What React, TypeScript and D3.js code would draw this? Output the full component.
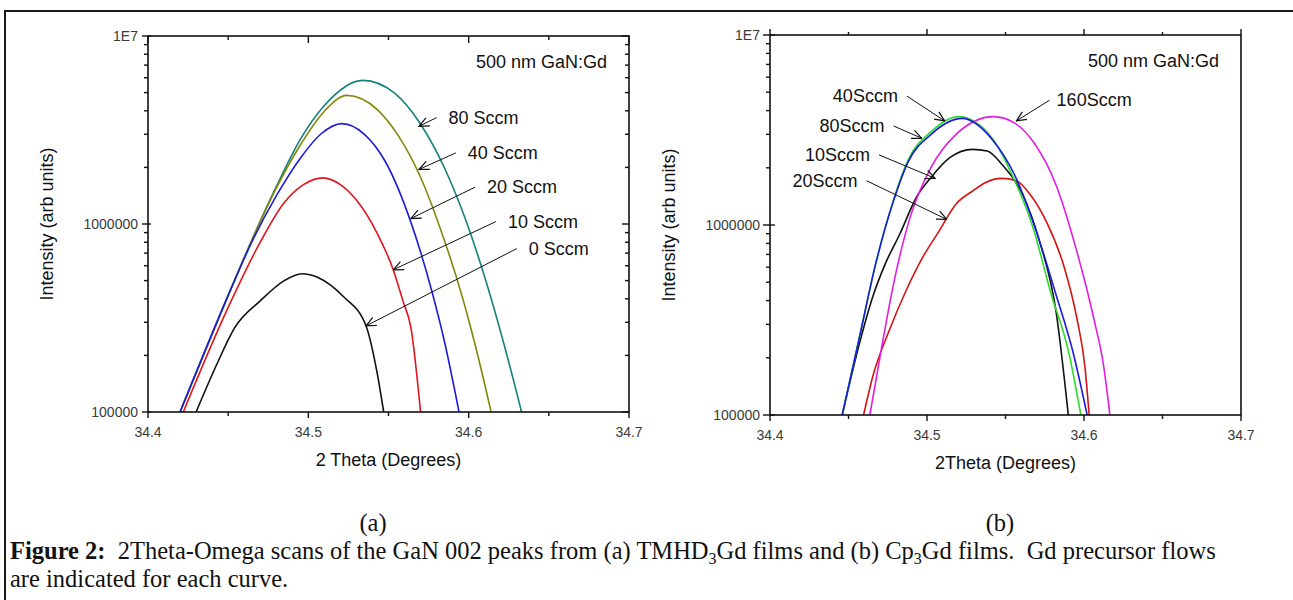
import React from "react";
import * as d3 from "d3";

type Pt = [number, number];

// (a) TMHD3Gd films: [2theta, intensity]
const labelsA = ["80 Sccm", "40 Sccm", "20 Sccm", "10 Sccm", "0 Sccm"];
const a80: Pt[] = [[34.42, 1e5], [34.45, 4.17e5], [34.465, 8.3e5], [34.48, 1.58e6], [34.495, 2.82e6], [34.51, 4.27e6], [34.534, 5.81e6], [34.554, 4.95e6], [34.569, 3.5e6], [34.585, 1.98e6], [34.598, 1.06e6], [34.611, 4.9e5], [34.622, 2.3e5], [34.633, 1e5]];
const a40: Pt[] = [[34.42, 1e5], [34.45, 4.17e5], [34.465, 8.3e5], [34.48, 1.55e6], [34.495, 2.63e6], [34.51, 3.98e6], [34.524, 4.83e6], [34.543, 4.06e6], [34.556, 2.96e6], [34.569, 1.85e6], [34.583, 9.1e5], [34.596, 4.1e5], [34.606, 1.95e5], [34.614, 1e5]];
const a20: Pt[] = [[34.42, 1e5], [34.45, 4.17e5], [34.465, 8.1e5], [34.48, 1.41e6], [34.495, 2.24e6], [34.508, 3.02e6], [34.521, 3.42e6], [34.535, 3.0e6], [34.548, 2.15e6], [34.564, 1.02e6], [34.577, 4.4e5], [34.585, 2.35e5], [34.594, 1e5]];
const a10: Pt[] = [[34.422, 1e5], [34.45, 3.6e5], [34.47, 8.0e5], [34.485, 1.3e6], [34.497, 1.62e6], [34.509, 1.76e6], [34.52, 1.62e6], [34.53, 1.34e6], [34.543, 8.9e5], [34.553, 5.7e5], [34.559, 3.9e5], [34.564, 2.8e5], [34.57, 1e5]];
const a0: Pt[] = [[34.43, 1e5], [34.443, 1.8e5], [34.454, 2.8e5], [34.47, 3.9e5], [34.485, 5.0e5], [34.496, 5.44e5], [34.506, 5.2e5], [34.522, 4.1e5], [34.536, 2.87e5], [34.543, 1.6e5], [34.547, 1e5]];
const colorsA = ["#13817c", "#85850a", "#1c1cd6", "#e0141c", "#111111"];
// arrows: tip x, tip y, tail x, tail y (data units)
const arrowsA: [number, number, number, number][] = [
  [34.569, 3.31e6, 34.58, 3.68e6],
  [34.569, 1.95e6, 34.592, 2.39e6],
  [34.564, 1.07e6, 34.604, 1.57e6],
  [34.553, 5.71e5, 34.617, 1.03e6],
  [34.536, 2.87e5, 34.63, 7.4e5],
];

// (b) Cp3Gd films
const labelsB = ["80Sccm", "40Sccm", "160Sccm", "10Sccm", "20Sccm"];
const b80: Pt[] = [[34.446, 1e5], [34.4575, 2.68e5], [34.4668, 6.0e5], [34.4787, 1.34e6], [34.488, 2.15e6], [34.5026, 3.0e6], [34.5224, 3.64e6], [34.5423, 2.77e6], [34.5556, 1.85e6], [34.5688, 9.7e5], [34.582, 4.35e5], [34.5927, 2.19e5], [34.602, 1e5]];
const b40: Pt[] = [[34.446, 1e5], [34.4575, 2.7e5], [34.4668, 6.0e5], [34.4787, 1.36e6], [34.488, 2.2e6], [34.5026, 3.1e6], [34.52, 3.72e6], [34.542, 2.83e6], [34.554, 1.85e6], [34.5675, 9.7e5], [34.579, 4.35e5], [34.59, 2.19e5], [34.598, 1e5]];
const b160: Pt[] = [[34.4636, 1e5], [34.4708, 2.19e5], [34.4787, 4.9e5], [34.4893, 1.1e6], [34.5026, 2.01e6], [34.5185, 3.0e6], [34.5423, 3.72e6], [34.5556, 3.45e6], [34.5688, 2.66e6], [34.582, 1.64e6], [34.5953, 7.33e5], [34.606, 3.28e5], [34.6126, 1.79e5], [34.6165, 1e5]];
const b10: Pt[] = [[34.446, 1e5], [34.4575, 2.47e5], [34.4655, 4.2e5], [34.4734, 6.24e5], [34.4827, 8.97e5], [34.4933, 1.4e6], [34.5026, 1.78e6], [34.5145, 2.26e6], [34.5291, 2.5e6], [34.5384, 2.45e6], [34.5476, 2.09e6], [34.5609, 1.45e6], [34.5715, 8.3e5], [34.5821, 3.55e5], [34.59, 1e5]];
const b20: Pt[] = [[34.4596, 1e5], [34.4655, 1.6e5], [34.476, 2.79e5], [34.4867, 4.52e5], [34.4973, 6.77e5], [34.5079, 9.34e5], [34.5185, 1.29e6], [34.5291, 1.51e6], [34.537, 1.67e6], [34.5476, 1.76e6], [34.5569, 1.71e6], [34.5662, 1.43e6], [34.5768, 1.01e6], [34.5874, 6.0e5], [34.5953, 3.28e5], [34.6006, 1.79e5], [34.6033, 1e5]];
const colorsB = ["#1a1ae0", "#2ed82e", "#e01ee0", "#111111", "#d41414"];
const arrowsB: [number, number, number, number][] = [
  [34.4967, 2.86e6, 34.4787, 3.32e6],
  [34.5113, 3.53e6, 34.4872, 4.77e6],
  [34.5569, 3.53e6, 34.5781, 4.54e6],
  [34.5052, 1.76e6, 34.4694, 2.34e6],
  [34.5126, 1.07e6, 34.4615, 1.71e6],
];

const xTickVals = [34.4, 34.45, 34.5, 34.55, 34.6, 34.65, 34.7];
const sans = "'Liberation Sans', Arial, sans-serif";
const serif = "'Liberation Serif', 'Times New Roman', serif";

type Box = { left: number; right: number; top: number; bottom: number };

function Panel({ id, box, series, colors, labels, arrows, xTitle, variant, gap, xTitleY }: {
  id: string; box: Box; series: Pt[][]; colors: string[]; labels: string[];
  arrows: [number, number, number, number][]; xTitle: string; variant: "a" | "b"; gap: number; xTitleY: number;
}) {
  const x = d3.scaleLinear().domain([34.4, 34.7]).range([box.left, box.right]);
  const y = d3.scaleLog().domain([1e5, 1e7]).range([box.bottom, box.top]);
  const line = d3.line<Pt>().x((d) => x(d[0])).y((d) => y(d[1])).curve(d3.curveMonotoneX);
  const yTicks = y.ticks();
  const isMajorY = (d: number) => Math.abs(Math.log10(d) - Math.round(Math.log10(d))) < 1e-9;
  const isMajorX = (d: number) => Math.abs(d * 10 - Math.round(d * 10)) < 1e-6;
  const fmtY = (d: number) => (d >= 1e7 ? "1E7" : d3.format("d")(d));

  // tick extents [major, minor] as offsets from the axis line
  const tk = variant === "a"
    ? { left: [[-6, 3], [-4, 0]], right: [[-7, 0], [-4, 0]], top: [[0, 7], [0, 4]], bottom: [[0, 6], [0, 4]] }
    : { left: [[-7, 5], [-4, 0]], right: null, top: [[-6, 0], [-3, 0]], bottom: [[0, 6], [0, 4]] };

  const cx = (box.left + box.right) / 2;
  const cy = (box.top + box.bottom) / 2;

  return (
    <g>
      <defs>
        <clipPath id={id}>
          <rect x={box.left} y={box.top} width={box.right - box.left} height={box.bottom - box.top} />
        </clipPath>
      </defs>
      <g clipPath={`url(#${id})`}>
        {series.map((s, i) => (
          <path key={i} d={line(s) || ""} fill="none" stroke={colors[i]} strokeWidth={1.6} />
        ))}
      </g>
      <rect x={box.left} y={box.top} width={box.right - box.left} height={box.bottom - box.top}
        fill="none" stroke="#111" strokeWidth={1.6} />
      {yTicks.map((d, i) => {
        const m = isMajorY(d) ? 0 : 1;
        const yy = y(d);
        return (
          <g key={i}>
            <line x1={box.left + tk.left[m][0]} x2={box.left + tk.left[m][1]} y1={yy} y2={yy} stroke="#111" strokeWidth={1.4} />
            {tk.right && (
              <line x1={box.right + tk.right[m][0]} x2={box.right + tk.right[m][1]} y1={yy} y2={yy} stroke="#111" strokeWidth={1.4} />
            )}
            {m === 0 && (
              <text x={box.left - 10} y={yy} dy="0.35em" textAnchor="end" fontSize={14} fill="#3a3a3a" fontFamily={sans}>
                {fmtY(d)}
              </text>
            )}
          </g>
        );
      })}
      {xTickVals.map((d, i) => {
        const m = isMajorX(d) ? 0 : 1;
        const xx = x(d);
        return (
          <g key={i}>
            <line x1={xx} x2={xx} y1={box.top + tk.top[m][0]} y2={box.top + tk.top[m][1]} stroke="#111" strokeWidth={1.4} />
            <line x1={xx} x2={xx} y1={box.bottom + tk.bottom[m][0]} y2={box.bottom + tk.bottom[m][1]} stroke="#111" strokeWidth={1.4} />
            {m === 0 && (
              <text x={xx} y={box.bottom + 25} textAnchor="middle" fontSize={14} fill="#3a3a3a" fontFamily={sans}>
                {d3.format(".1f")(d)}
              </text>
            )}
          </g>
        );
      })}
      <text x={cx} y={xTitleY} textAnchor="middle" fontSize={18} fontFamily={sans} fill="#111">{xTitle}</text>
      <text transform={`translate(${box.left - 101},${cy}) rotate(-90)`} textAnchor="middle" dy="0.35em"
        fontSize={18} fontFamily={sans} fill="#111">Intensity (arb units)</text>
      <text x={box.right - 22} y={box.top + 32} textAnchor="end" fontSize={18} fontFamily={sans} fill="#111">500 nm GaN:Gd</text>
      {arrows.map((a, i) => {
        const px = x(a[0]), py = y(a[1]), tx = x(a[2]), ty = y(a[3]);
        const right = tx > px;
        return (
          <g key={i}>
            <line x1={tx} y1={ty} x2={px} y2={py} stroke="#111" strokeWidth={1} markerEnd="url(#openArrow)" />
            <text x={right ? tx + gap : tx - 9} y={ty + 6} textAnchor={right ? "start" : "end"}
              fontSize={18} fontFamily={sans} fill="#111">{labels[i]}</text>
          </g>
        );
      })}
    </g>
  );
}

export default function App() {
  return (
    <svg width={1293} height={600} style={{ position: "absolute", left: 0, top: 0, display: "block", background: "#fff" }}>
      <defs>
        <marker id="openArrow" viewBox="0 0 10 10" refX={9.5} refY={5} markerWidth={11} markerHeight={11}
          markerUnits="userSpaceOnUse" orient="auto">
          <path d="M0.5,1 L9.5,5 L0.5,9" fill="none" stroke="#111" strokeWidth={1.1} />
        </marker>
      </defs>
      <line x1={5} y1={11} x2={1293} y2={11} stroke="#1a1a1a" strokeWidth={2} />
      <line x1={5} y1={10} x2={5} y2={600} stroke="#1a1a1a" strokeWidth={2} />
      <Panel id="clipA" box={{ left: 148, right: 629, top: 36, bottom: 412 }}
        series={[a80, a40, a20, a10, a0]} colors={colorsA} labels={labelsA} arrows={arrowsA}
        xTitle="2 Theta (Degrees)" variant="a" gap={12} xTitleY={466} />
      <Panel id="clipB" box={{ left: 770, right: 1241, top: 35, bottom: 415 }}
        series={[b20, b10, b160, b40, b80]} colors={[colorsB[4], colorsB[3], colorsB[2], colorsB[1], colorsB[0]]}
        labels={labelsB} arrows={arrowsB}
        xTitle="2Theta (Degrees)" variant="b" gap={7} xTitleY={469} />
      <g fontFamily={serif} fontSize={24.5} fill="#111">
        <text x={373} y={531} textAnchor="middle">(a)</text>
        <text x={1000} y={531} textAnchor="middle">(b)</text>
        <text x={10} y={559} xmlSpace="preserve" style={{ whiteSpace: "pre" }}>
          <tspan fontWeight="bold">Figure 2:</tspan>
          <tspan>{"  2Theta-Omega scans of the GaN 002 peaks from (a) TMHD"}</tspan>
          <tspan fontSize={16} dy={5}>3</tspan>
          <tspan dy={-5}>{"Gd films and (b) Cp"}</tspan>
          <tspan fontSize={16} dy={5}>3</tspan>
          <tspan dy={-5}>{"Gd films.  Gd precursor flows"}</tspan>
        </text>
        <text x={10} y={587}>are indicated for each curve.</text>
      </g>
    </svg>
  );
}
